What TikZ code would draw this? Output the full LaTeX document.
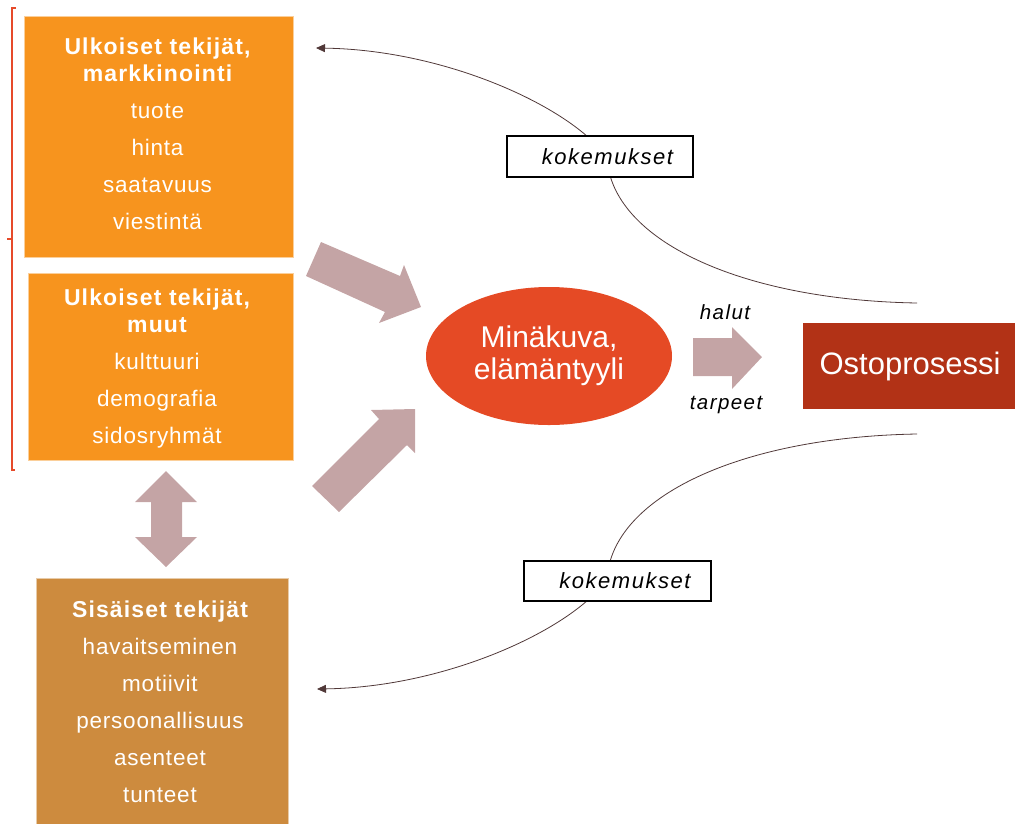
\documentclass[tikz,border=0pt]{standalone}
\usepackage{fontspec}
\setmainfont{Liberation Sans}
\newfontfamily\bodyf[LetterSpace=3.5]{Liberation Sans}
\newfontfamily\headf[LetterSpace=5]{Liberation Sans}
\newfontfamily\italf[LetterSpace=7]{Liberation Sans}
\usetikzlibrary{shapes.geometric,arrows.meta}
\definecolor{orangeA}{RGB}{247,148,30}
\definecolor{brownB}{RGB}{205,139,62}
\definecolor{selfred}{RGB}{229,74,37}
\definecolor{procred}{RGB}{178,50,22}
\definecolor{mauve}{RGB}{196,164,165}
\definecolor{bracketred}{RGB}{230,74,42}
\definecolor{curvecol}{RGB}{80,56,56}
\tikzset{
  factorbox/.style={rectangle, inner sep=0pt, line width=1pt},
  factortext/.style={inner sep=0pt, text=white, align=center,
    font=\bodyf\fontsize{22.5}{37}\selectfont},
  kbox/.style={rectangle, draw=black, line width=1.6pt, fill=white, inner sep=0pt,
    font=\italf\itshape\fontsize{22}{26}\selectfont},
  blockarrow/.style={fill=mauve, draw=none},
  expcurve/.style={draw=curvecol, line width=0.8pt, -{Triangle[length=9pt,width=8pt]}},
  lbl/.style={inner sep=0pt, font=\italf\itshape\fontsize{20.5}{24}\selectfont}
}
\newcommand{\hd}[1]{{\headf\bfseries\fontsize{23}{37}\selectfont #1}}
\begin{document}
\begin{tikzpicture}[x=1pt,y=-1pt]
\useasboundingbox (0,0) rectangle (1015,823);

% bracket
\draw[bracketred, line width=1.6pt] (16,8) -- (12,8) -- (12,470) -- (15,470);
\draw[bracketred, line width=1.6pt] (12,239) -- (7,239);

% factor boxes
\node[factorbox, fill=orangeA, draw=orangeA!45!white, minimum width=269pt, minimum height=241pt] (mark) at (158.5,136.5) {};
\node[factortext] (markt) at (157.5,134) {\hd{Ulkoiset tekijät,}\\[-10pt]\hd{markkinointi}\\tuote\\hinta\\saatavuus\\viestintä};

\node[factorbox, fill=orangeA, draw=orangeA!45!white, minimum width=265pt, minimum height=187pt] (other) at (160.5,366.5) {};
\node[factortext] (othert) at (157,368) {\hd{Ulkoiset tekijät,}\\[-10pt]\hd{muut}\\kulttuuri\\demografia\\sidosryhmät};

\node[factorbox, fill=brownB, draw=brownB!45!white, minimum width=252pt, minimum height=260pt] (inner) at (162,708) {};
\node[factortext] (innert) at (160,701.5) {\hd{Sisäiset tekijät}\\havaitseminen\\motiivit\\persoonallisuus\\asenteet\\tunteet};

% self-image ellipse and purchase process
\node[ellipse, fill=selfred, inner sep=0pt, minimum width=246pt, minimum height=138pt,
      text=white, align=center, font=\fontsize{30}{32}\selectfont] (self) at (549,356)
      {Minäkuva,\\elämäntyyli};
\node[rectangle, fill=procred, inner sep=0pt, minimum width=214pt, minimum height=86pt,
      text=white, font=\fontsize{31}{36}\selectfont] (proc) at (910,366) {Ostoprosessi};

% block arrows
\draw[blockarrow] (321,242) -- (400,276) -- (404,265) -- (421,307) -- (379,323) -- (385,312) -- (306,276) -- cycle;
\draw[blockarrow] (312,486) -- (379,419) -- (371,410) -- (415,409) -- (415,453) -- (407,445) -- (339,512) -- cycle;
\draw[blockarrow] (693,338) -- (732,338) -- (732,327) -- (762,357) -- (732,389) -- (732,376) -- (693,376) -- cycle;
\draw[blockarrow] (166,471) -- (197,502) -- (182,502) -- (182,537) -- (197,537) -- (166,567) -- (135,537) -- (151,537) -- (151,502) -- (135,502) -- cycle;

\node[lbl] (halut) at (725,312) {halut};
\node[lbl] (tarpeet) at (726,405) {tarpeet};

% experience feedback curves
\coordinate (u0) at (917,303);
\coordinate (u1) at (316,48);
\coordinate (l0) at (917,434);
\coordinate (l1) at (317,689);
\draw[expcurve] (u0) .. controls (740,300) and (612,240) .. (607,158)
                     .. controls (575,110) and (450,50) .. (u1);
\draw[expcurve] (l0) .. controls (740,437) and (612,497) .. (607,579)
                     .. controls (575,627) and (450,687) .. (l1);

\node[kbox, minimum width=186pt, minimum height=41pt] (kok1) at (600,156.5) {\hspace*{15pt}kokemukset};
\node[kbox, minimum width=187pt, minimum height=40pt] (kok2) at (617.5,581) {\hspace*{15pt}kokemukset};
\end{tikzpicture}
\end{document}
